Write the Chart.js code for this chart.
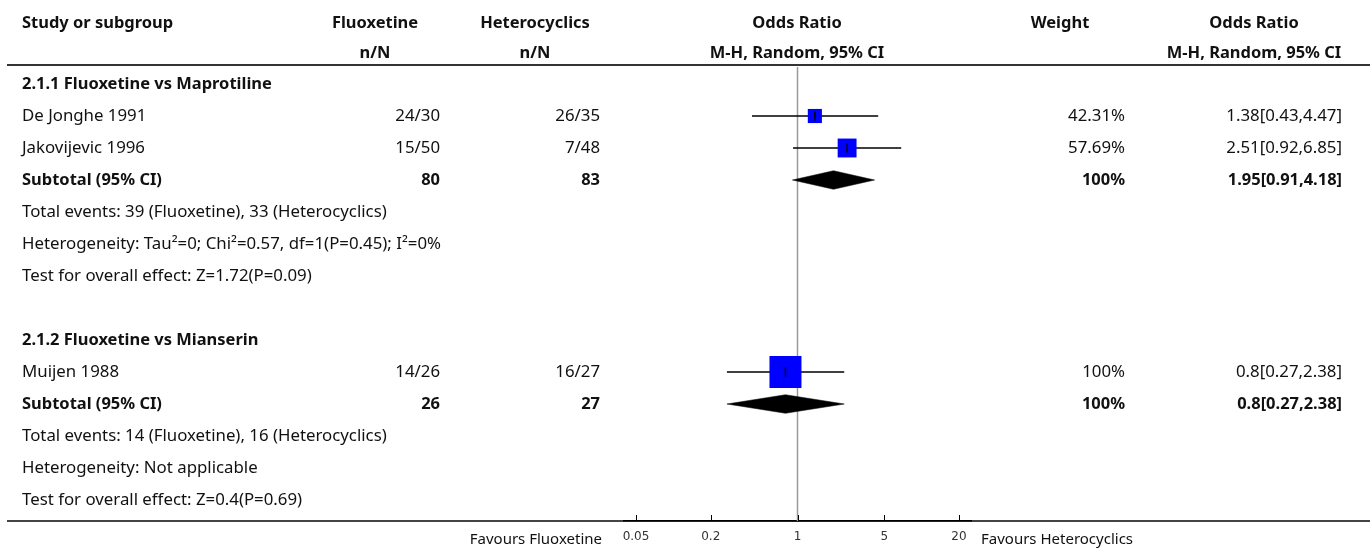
<!DOCTYPE html>
<html><head><meta charset="utf-8">
<script src="https://cdn.jsdelivr.net/npm/chart.js@4.4.0/dist/chart.umd.min.js"></script>
<style>html,body{margin:0;padding:0;background:#fff;}#wrap{width:1370px;height:552px;}</style>
</head><body><div id="wrap"><canvas id="c" width="1370" height="552"></canvas></div>
<script>
// ---------- DATA ----------
const headerRow1 = ["Study or subgroup", "Fluoxetine", "Heterocyclics", "Odds Ratio", "Weight", "Odds Ratio"];
const headerRow2 = ["", "n/N", "n/N", "M-H, Random, 95% CI", "", "M-H, Random, 95% CI"];

// table rows (row index = position down the list)
const groupRows = [0, 8];
const groupLabels = ["2.1.1 Fluoxetine vs Maprotiline", "2.1.2 Fluoxetine vs Mianserin"];

const studyRows = [1, 2, 9];
const studyNames = ["De Jonghe 1991", "Jakovijevic 1996", "Muijen 1988"];
const studyFluox = ["24/30", "15/50", "14/26"];
const studyHetero = ["26/35", "7/48", "16/27"];
const studyWeight = [42.31, 57.69, 100];
const studyOR = [1.38, 2.51, 0.8];
const studyLo = [0.43, 0.92, 0.27];
const studyHi = [4.47, 6.85, 2.38];

const subtotalRows = [3, 10];
const subtotalFluox = ["80", "26"];
const subtotalHetero = ["83", "27"];
const subtotalWeight = [100, 100];
const subtotalOR = [1.95, 0.8];
const subtotalLo = [0.91, 0.27];
const subtotalHi = [4.18, 2.38];

const noteRows = [4, 5, 6, 11, 12, 13];
const noteTexts = [
  "Total events: 39 (Fluoxetine), 33 (Heterocyclics)",
  "Heterogeneity: Tau\u00B2=0; Chi\u00B2=0.57, df=1(P=0.45); I\u00B2=0%",
  "Test for overall effect: Z=1.72(P=0.09)",
  "Total events: 14 (Fluoxetine), 16 (Heterocyclics)",
  "Heterogeneity: Not applicable",
  "Test for overall effect: Z=0.4(P=0.69)"
];

const axisTicks = [0.05, 0.2, 1, 5, 20];
const favoursLeft = "Favours Fluoxetine";
const favoursRight = "Favours Heterocyclics";

// ---------- STYLE / LAYOUT ----------
const FAM = "'Noto Sans', 'Open Sans', sans-serif";
const mctx = document.createElement('canvas').getContext('2d');
const measure = (font, t) => { mctx.font = font; return mctx.measureText(t).width; };
// fit font sizes to the reference text widths
const regSize = 100 * 365 / measure("100px " + FAM, noteTexts[0]);
const boldSize = 100 * 250 / measure("bold 100px " + FAM, groupLabels[0]);
const REG = regSize.toFixed(2) + "px " + FAM;
const BOLD = "bold " + boldSize.toFixed(2) + "px " + FAM;
const FAV = "15px " + FAM;
const TXT = "#111";
const col = {
  studyL: 22,
  fluoxC: 375, fluoxR: 440,
  hetC: 535, hetR: 600,
  plotC: 797,
  wC: 1060, wR: 1125,
  orC: 1254, orR: 1342
};

const fmtOR = (o, l, h) => `${o}[${l},${h}]`;

// ---------- DATASETS ----------
const datasets = [];
studyRows.forEach((r, i) => {
  datasets.push({
    type: 'scatter', showLine: true, data: [{x: studyLo[i], y: r}, {x: studyHi[i], y: r}],
    borderColor: '#000', borderWidth: 1.3, pointRadius: 0, order: 3
  });
});
datasets.push({
  type: 'scatter', data: studyRows.map((r, i) => ({x: studyOR[i], y: r})),
  pointStyle: 'rect',
  pointRadius: studyWeight.map(w => (0.31 * w + 1) / Math.SQRT2),
  backgroundColor: '#0000ff', borderWidth: 0, order: 2
});
datasets.push({
  type: 'scatter', data: studyRows.map((r, i) => ({x: studyOR[i], y: r})),
  pointStyle: 'line', pointRotation: 90, pointRadius: 4.5,
  borderColor: '#000', borderWidth: 1.5, order: 1
});
const DH = 0.29;
subtotalRows.forEach((r, i) => {
  datasets.push({
    type: 'scatter', showLine: true, tension: 0,
    data: [
      {x: subtotalLo[i], y: r}, {x: subtotalOR[i], y: r - DH},
      {x: subtotalHi[i], y: r}, {x: subtotalOR[i], y: r + DH},
      {x: subtotalLo[i], y: r}
    ],
    borderColor: '#000', borderWidth: 0.5, backgroundColor: '#000',
    fill: 'shape', pointRadius: 0, order: 2
  });
});

// ---------- PLUGIN: table text & rules ----------
const tablePlugin = {
  id: 'table',
  beforeDraw(chart) {
    const ctx = chart.ctx;
    const yb = chart.chartArea.bottom;
    ctx.save();
    ctx.strokeStyle = '#444'; ctx.lineWidth = 2;
    ctx.beginPath(); ctx.moveTo(7, yb); ctx.lineTo(1370, yb); ctx.stroke();
    ctx.restore();
  },
  beforeDatasetsDraw(chart) {
    const ctx = chart.ctx, xs = chart.scales.x, a = chart.chartArea;
    ctx.save();
    ctx.strokeStyle = '#9a9a9a'; ctx.lineWidth = 1.5;
    const x1 = xs.getPixelForValue(1);
    ctx.beginPath(); ctx.moveTo(x1, a.top - 1); ctx.lineTo(x1, a.bottom); ctx.stroke();
    ctx.restore();
  },
  afterDraw(chart) {
    const ctx = chart.ctx, xs = chart.scales.x, ys = chart.scales.y, a = chart.chartArea;
    ctx.save();
    // tick marks (upward)
    ctx.strokeStyle = '#000'; ctx.lineWidth = 1;
    axisTicks.forEach(v => {
      const x = Math.round(xs.getPixelForValue(v)) + 0.5;
      ctx.beginPath(); ctx.moveTo(x, a.bottom); ctx.lineTo(x, a.bottom - 6); ctx.stroke();
    });
    // header rule
    ctx.strokeStyle = '#333'; ctx.lineWidth = 2;
    ctx.beginPath(); ctx.moveTo(7, 65); ctx.lineTo(1370, 65); ctx.stroke();

    ctx.fillStyle = TXT; ctx.textBaseline = 'middle';
    const put = (t, x, y, align, font) => { ctx.font = font; ctx.textAlign = align; ctx.fillText(t, x, y); };
    // headers
    const h1 = 23, h2 = 53;
    put(headerRow1[0], col.studyL, h1, 'left', BOLD);
    put(headerRow1[1], col.fluoxC, h1, 'center', BOLD);
    put(headerRow1[2], col.hetC, h1, 'center', BOLD);
    put(headerRow1[3], col.plotC, h1, 'center', BOLD);
    put(headerRow1[4], col.wC, h1, 'center', BOLD);
    put(headerRow1[5], col.orC, h1, 'center', BOLD);
    put(headerRow2[1], col.fluoxC, h2, 'center', BOLD);
    put(headerRow2[2], col.hetC, h2, 'center', BOLD);
    put(headerRow2[3], col.plotC, h2, 'center', BOLD);
    put(headerRow2[5], col.orC, h2, 'center', BOLD);

    groupRows.forEach((r, i) => put(groupLabels[i], col.studyL, ys.getPixelForValue(r), 'left', BOLD));
    studyRows.forEach((r, i) => {
      const y = ys.getPixelForValue(r);
      put(studyNames[i], col.studyL, y, 'left', REG);
      put(studyFluox[i], col.fluoxR, y, 'right', REG);
      put(studyHetero[i], col.hetR, y, 'right', REG);
      put(studyWeight[i] + '%', col.wR, y, 'right', REG);
      put(fmtOR(studyOR[i], studyLo[i], studyHi[i]), col.orR, y, 'right', REG);
    });
    subtotalRows.forEach((r, i) => {
      const y = ys.getPixelForValue(r);
      put("Subtotal (95% CI)", col.studyL, y, 'left', BOLD);
      put(subtotalFluox[i], col.fluoxR, y, 'right', BOLD);
      put(subtotalHetero[i], col.hetR, y, 'right', BOLD);
      put(subtotalWeight[i] + '%', col.wR, y, 'right', BOLD);
      put(fmtOR(subtotalOR[i], subtotalLo[i], subtotalHi[i]), col.orR, y, 'right', BOLD);
    });
    noteRows.forEach((r, i) => put(noteTexts[i], col.studyL, ys.getPixelForValue(r), 'left', REG));

    // favours labels
    put(favoursLeft, 602, 540, 'right', FAV);
    put(favoursRight, 981, 540, 'left', FAV);
    ctx.restore();
  }
};

new Chart(document.getElementById('c'), {
  type: 'scatter',
  data: { datasets },
  options: {
    responsive: false, animation: false, devicePixelRatio: 1,
    events: [],
    layout: { padding: { left: 624, right: 399, top: 68, bottom: 0 } },
    plugins: { legend: { display: false }, tooltip: { enabled: false } },
    scales: {
      x: {
        type: 'logarithmic', position: 'bottom', min: 0.04, max: 25,
        afterBuildTicks: s => { s.ticks = axisTicks.map(v => ({ value: v })); },
        afterFit: s => { s.height = 31; },
        ticks: {
          callback: v => String(v), autoSkip: false, maxRotation: 0,
          font: { family: 'DejaVu Sans', size: 12 }, color: '#333', padding: 9
        },
        grid: { display: false, drawTicks: false },
        border: { display: true, color: '#000', width: 1.5 }
      },
      y: { type: 'linear', display: false, reverse: true, min: -0.5, max: 13.656 }
    }
  },
  plugins: [tablePlugin]
});
</script>
</body></html>
